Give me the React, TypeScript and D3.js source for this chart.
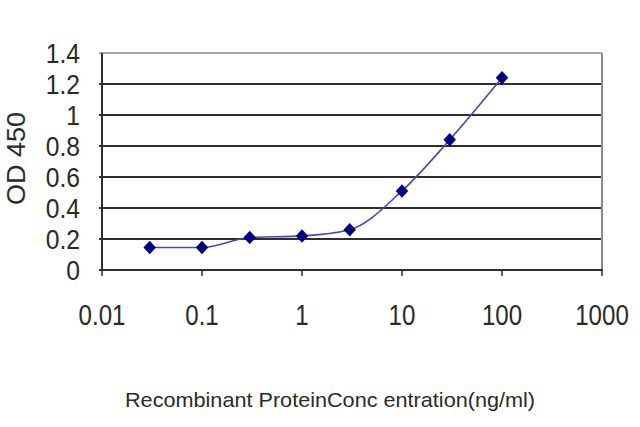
import { useEffect, useRef } from 'react';
import * as d3 from 'd3';

const CONCENTRATIONS = [0.03, 0.1, 0.3, 1, 3, 10, 30, 100];
const OD_VALUES = [0.145, 0.145, 0.21, 0.22, 0.26, 0.51, 0.84, 1.24];
const X_TICKS = [0.01, 0.1, 1, 10, 100, 1000];
const X_TICK_LABELS = ['0.01', '0.1', '1', '10', '100', '1000'];
const Y_TICKS = [0, 0.2, 0.4, 0.6, 0.8, 1, 1.2, 1.4];
const Y_TICK_LABELS = ['0', '0.2', '0.4', '0.6', '0.8', '1', '1.2', '1.4'];

const WIDTH = 640;
const HEIGHT = 427;
const PLOT = { left: 102, right: 602, top: 53, bottom: 270 };
const FONT = '"Liberation Sans", Arial, sans-serif';

export default function App() {
  const svgRef = useRef<SVGSVGElement>(null);

  useEffect(() => {
    if (!svgRef.current) return;
    const svg = d3.select(svgRef.current);
    svg.selectAll('*').remove();

    svg.append('rect').attr('width', WIDTH).attr('height', HEIGHT).attr('fill', '#fff');

    const x = d3.scaleLog().domain([0.01, 1000]).range([PLOT.left, PLOT.right]);
    const y = d3.scaleLinear().domain([0, 1.4]).range([PLOT.bottom, PLOT.top]);

    // gridlines
    Y_TICKS.forEach((t) => {
      if (t === 0) return;
      svg.append('line')
        .attr('x1', PLOT.left - 3).attr('x2', PLOT.right)
        .attr('y1', y(t)).attr('y2', y(t))
        .attr('stroke', t === 1.4 ? '#8a8a8a' : '#2e2e2e')
        .attr('stroke-width', t === 1.4 ? 1.5 : 2.2);
    });

    // right border
    svg.append('line')
      .attr('x1', PLOT.right).attr('x2', PLOT.right)
      .attr('y1', PLOT.top).attr('y2', PLOT.bottom)
      .attr('stroke', '#8a8a8a').attr('stroke-width', 2);

    // left axis
    svg.append('line')
      .attr('x1', PLOT.left).attr('x2', PLOT.left)
      .attr('y1', PLOT.top).attr('y2', PLOT.bottom + 1)
      .attr('stroke', '#2e2e2e').attr('stroke-width', 2);

    // bottom axis + ticks
    svg.append('line')
      .attr('x1', PLOT.left - 3).attr('x2', PLOT.right + 1)
      .attr('y1', PLOT.bottom).attr('y2', PLOT.bottom)
      .attr('stroke', '#2e2e2e').attr('stroke-width', 2);
    X_TICKS.forEach((t) => {
      svg.append('line')
        .attr('x1', x(t)).attr('x2', x(t))
        .attr('y1', PLOT.bottom).attr('y2', PLOT.bottom + 6)
        .attr('stroke', '#2e2e2e').attr('stroke-width', 1.5);
    });

    // y tick labels
    Y_TICKS.forEach((t, i) => {
      svg.append('text')
        .attr('transform', `translate(80,${y(t) + 10}) scale(0.88,1)`)
        .attr('text-anchor', 'end')
        .attr('font-family', FONT).attr('font-size', 28)
        .attr('fill', '#2a2a2a')
        .text(Y_TICK_LABELS[i]);
    });

    // x tick labels
    X_TICKS.forEach((t, i) => {
      svg.append('text')
        .attr('transform', `translate(${x(t)},325) scale(0.86,1.05)`)
        .attr('text-anchor', 'middle')
        .attr('font-family', FONT).attr('font-size', 28)
        .attr('fill', '#2a2a2a')
        .text(X_TICK_LABELS[i]);
    });

    // axis titles
    svg.append('text')
      .attr('transform', 'translate(25,158.5) rotate(-90)')
      .attr('text-anchor', 'middle')
      .attr('font-family', FONT).attr('font-size', 25)
      .attr('fill', '#2a2a2a')
      .attr('textLength', 93).attr('lengthAdjust', 'spacingAndGlyphs')
      .text('OD 450');

    svg.append('text')
      .attr('x', 125).attr('y', 407)
      .attr('font-family', FONT).attr('font-size', 21)
      .attr('fill', '#2a2a2a')
      .attr('textLength', 410).attr('lengthAdjust', 'spacingAndGlyphs')
      .text('Recombinant ProteinConc entration(ng/ml)');

    // series
    const pts: [number, number][] = CONCENTRATIONS.map((c, i) => [c, OD_VALUES[i]]);
    const line = d3.line<[number, number]>()
      .x((d) => x(d[0]))
      .y((d) => y(d[1]))
      .curve(d3.curveMonotoneX);
    svg.append('path')
      .datum(pts)
      .attr('fill', 'none')
      .attr('stroke', '#4848b0')
      .attr('stroke-width', 1.6)
      .attr('d', line);

    const diamond = d3.symbol().type(d3.symbolDiamond2).size(100);
    svg.selectAll('path.pt')
      .data(pts)
      .enter()
      .append('path')
      .attr('class', 'pt')
      .attr('transform', (d) => `translate(${x(d[0])},${y(d[1])}) scale(1,1.08)`)
      .attr('d', diamond)
      .attr('fill', '#000080');
  }, []);

  return (
    <div style={{ position: 'absolute', left: 0, top: 0 }}>
      <svg ref={svgRef} width={WIDTH} height={HEIGHT} style={{ display: 'block' }} />
    </div>
  );
}
